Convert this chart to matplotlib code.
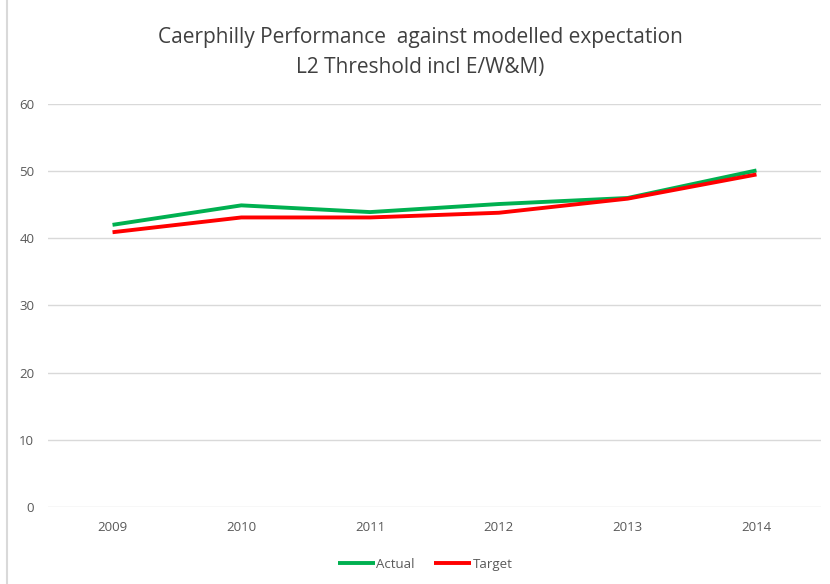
import matplotlib
matplotlib.use("Agg")
from matplotlib import pyplot as plt
from matplotlib.lines import Line2D

years = ["2009", "2010", "2011", "2012", "2013", "2014"]
actual = [42.0, 44.9, 43.9, 45.1, 46.0, 50.1]
target = [40.9, 43.1, 43.1, 43.8, 45.9, 49.5]

plt.rcParams['font.family'] = ['Open Sans', 'DejaVu Sans']

fig = plt.figure(figsize=(8.3, 5.84), dpi=100)
ax = fig.add_axes([0.058, 0.132, 0.931, 0.690])

x = range(len(years))
ax.plot(x, actual, color="#00b050", lw=2.8, label="Actual", solid_capstyle="butt")
ax.plot(x, target, color="#ff0000", lw=2.8, label="Target", solid_capstyle="butt")

ax.set_xlim(-0.5, len(years) - 0.5)
ax.set_ylim(0, 60)
ax.set_yticks(range(0, 61, 10))
ax.set_xticks(list(x))
ax.set_xticklabels(years)
ax.grid(axis="y", color="#d9d9d9", lw=1)
ax.set_axisbelow(True)
for s in ax.spines.values():
    s.set_visible(False)
ax.tick_params(length=0, labelsize=9.5, colors="#595959", pad=10)
ax.tick_params(axis="y", pad=10)

fig.text(0.506, 0.935, "Caerphilly Performance  against modelled expectation",
         ha="center", va="center", fontsize=15, color="#404040")
fig.text(0.506, 0.884, "L2 Threshold incl E/W&M)",
         ha="center", va="center", fontsize=15, color="#404040")

fig.legend(loc="center", bbox_to_anchor=(0.512, 0.034), ncol=2, frameon=False,
           fontsize=9.5, labelcolor="#595959", handlelength=2.8, handletextpad=0.1,
           columnspacing=1.5)

# chart frame on the left
fig.add_artist(Line2D([0.0085, 0.0085], [0, 1], color="#d9d9d9", lw=1.5))

fig.savefig("out.png", dpi=100)
